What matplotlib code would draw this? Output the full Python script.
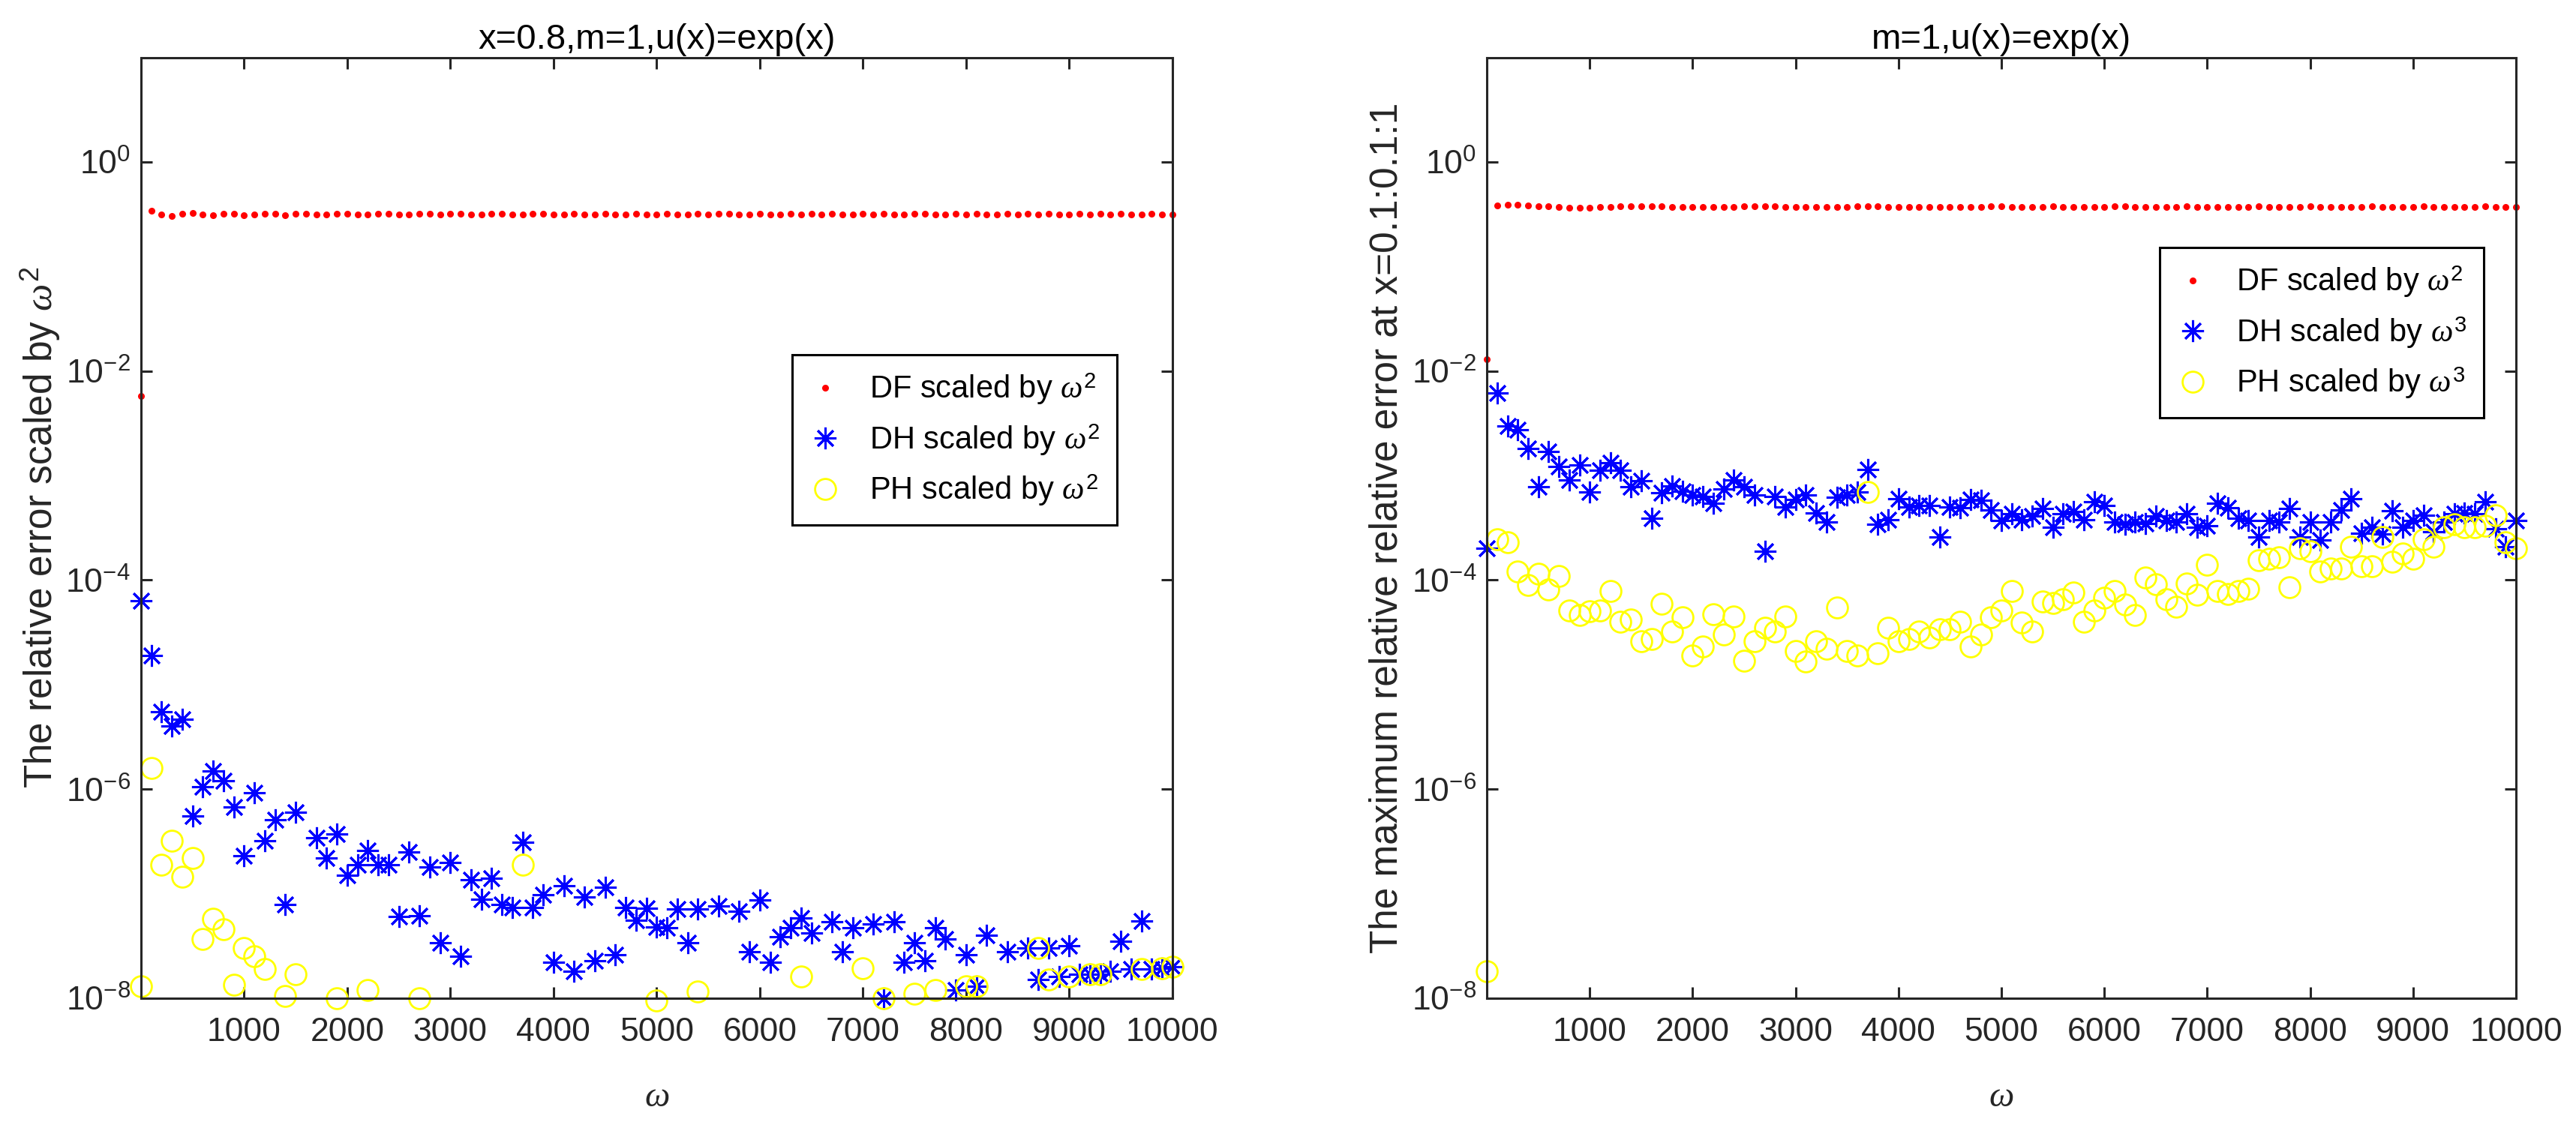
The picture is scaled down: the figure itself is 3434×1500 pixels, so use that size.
import numpy as np
import matplotlib
matplotlib.use('Agg')
from matplotlib import pyplot as plt
from matplotlib.ticker import FixedLocator, NullLocator, LogFormatterSciNotation

nan = np.nan

omega = list(range(0, 10001, 100))

# left panel: x=0.8
df_left = [5.8e-3, 0.339, 0.312, 0.305, 0.321, 0.324, 0.312, 0.311, 0.321, 0.318,
           0.311, 0.315, 0.321, 0.318, 0.311, 0.318, 0.321, 0.312, 0.312, 0.319,
           0.319, 0.312, 0.315, 0.319, 0.319, 0.315, 0.316, 0.319, 0.317, 0.312,
           0.317, 0.319, 0.315, 0.315, 0.317, 0.317, 0.315, 0.316, 0.317, 0.317,
           0.315, 0.316, 0.317, 0.316, 0.316, 0.317, 0.316, 0.316, 0.317, 0.315,
           0.316, 0.317, 0.315, 0.316, 0.318, 0.315, 0.317, 0.318, 0.315, 0.316,
           0.318, 0.315, 0.316, 0.317, 0.315, 0.317, 0.316, 0.318, 0.315, 0.316,
           0.317, 0.315, 0.318, 0.316, 0.315, 0.317, 0.318, 0.315, 0.316, 0.317,
           0.315, 0.318, 0.316, 0.315, 0.317, 0.316, 0.318, 0.315, 0.317, 0.316,
           0.315, 0.317, 0.316, 0.318, 0.315, 0.317, 0.316, 0.315, 0.318, 0.316,
           0.316]
dh_left = [6.3e-5, 1.9e-5, 5.5e-6, 4.0e-6, 4.7e-6, 5.5e-7, 1.05e-6, 1.5e-6, 1.2e-6, 6.8e-7,
           2.3e-7, 9.3e-7, 3.2e-7, 5.1e-7, 7.9e-8, 6.0e-7, nan, 3.4e-7, 2.2e-7, 3.7e-7,
           1.5e-7, 1.9e-7, 2.6e-7, 1.9e-7, 1.9e-7, 6.0e-8, 2.5e-7, 6.2e-8, 1.8e-7, 3.4e-8,
           2.0e-7, 2.5e-8, 1.35e-7, 8.9e-8, 1.4e-7, 7.9e-8, 7.4e-8, 3.1e-7, 7.4e-8, 9.8e-8,
           2.2e-8, 1.2e-7, 1.8e-8, 9.3e-8, 2.3e-8, 1.15e-7, 2.6e-8, 7.4e-8, 5.6e-8, 7.2e-8,
           4.8e-8, 4.7e-8, 7.1e-8, 3.4e-8, 7.1e-8, nan, 7.6e-8, nan, 6.8e-8, 2.8e-8,
           8.7e-8, 2.2e-8, 3.9e-8, 4.7e-8, 5.9e-8, 4.2e-8, nan, 5.4e-8, 2.8e-8, 4.7e-8,
           nan, 5.1e-8, 1.0e-8, 5.4e-8, 2.2e-8, 3.4e-8, 2.3e-8, 4.7e-8, 3.7e-8, 1.2e-8,
           2.6e-8, 1.3e-8, 4.0e-8, nan, 2.8e-8, nan, 3.0e-8, 1.5e-8, 3.0e-8, 1.6e-8,
           3.2e-8, 1.7e-8, 1.7e-8, 1.7e-8, 1.8e-8, 3.5e-8, 1.9e-8, 5.5e-8, 1.9e-8, 1.95e-8,
           2.0e-8]
ph_left = [1.3e-8, 1.6e-6, 1.9e-7, 3.2e-7, 1.45e-7, 2.2e-7, 3.7e-8, 5.8e-8, 4.6e-8, 1.35e-8,
           3.0e-8, 2.5e-8, 1.9e-8, nan, 1.05e-8, 1.7e-8, nan, nan, nan, 1.0e-8,
           nan, nan, 1.2e-8, nan, nan, nan, nan, 1.0e-8, nan, nan,
           nan, nan, nan, nan, nan, nan, nan, 1.9e-7, nan, nan,
           nan, nan, nan, nan, nan, nan, nan, nan, nan, nan,
           9.5e-9, nan, nan, nan, 1.15e-8, nan, nan, nan, nan, nan,
           nan, nan, nan, nan, 1.6e-8, nan, nan, nan, nan, nan,
           1.95e-8, nan, 1.0e-8, nan, nan, 1.1e-8, nan, 1.2e-8, nan, nan,
           1.3e-8, 1.3e-8, nan, nan, nan, nan, nan, 3.0e-8, 1.5e-8, nan,
           1.6e-8, nan, 1.7e-8, 1.7e-8, nan, nan, nan, 1.9e-8, nan, 1.95e-8,
           2.0e-8]

# right panel: max over x=0.1:0.1:1
df_right = [1.3e-2, 0.383, 0.387, 0.387, 0.383, 0.379, 0.375, 0.369, 0.367, 0.366,
            0.367, 0.369, 0.371, 0.375, 0.379, 0.379, 0.379, 0.377, 0.373, 0.371,
            0.369, 0.369, 0.369, 0.371, 0.373, 0.375, 0.377, 0.377, 0.375, 0.373,
            0.371, 0.371, 0.369, 0.369, 0.371, 0.373, 0.375, 0.377, 0.375, 0.373,
            0.373, 0.371, 0.371, 0.371, 0.371, 0.371, 0.373, 0.371, 0.373, 0.375,
            0.375, 0.373, 0.371, 0.371, 0.373, 0.375, 0.373, 0.371, 0.369, 0.371,
            0.373, 0.375, 0.375, 0.373, 0.371, 0.369, 0.371, 0.373, 0.375, 0.373,
            0.371, 0.369, 0.369, 0.371, 0.373, 0.375, 0.373, 0.371, 0.371, 0.373,
            0.375, 0.373, 0.371, 0.369, 0.371, 0.373, 0.375, 0.373, 0.371, 0.371,
            0.373, 0.375, 0.373, 0.371, 0.369, 0.371, 0.373, 0.375, 0.373, 0.371,
            0.373]
dh_right = [2.0e-4, 6.2e-3, 3.0e-3, 2.75e-3, 1.8e-3, 7.8e-4, 1.7e-3, 1.23e-3, 9.1e-4, 1.26e-3,
            6.9e-4, 1.12e-3, 1.32e-3, 1.12e-3, 7.8e-4, 8.9e-4, 3.9e-4, 6.8e-4, 7.9e-4, 7.1e-4,
            6.5e-4, 6.3e-4, 5.4e-4, 7.4e-4, 9.1e-4, 7.8e-4, 6.5e-4, 1.9e-4, 6.3e-4, 5.0e-4,
            5.9e-4, 6.5e-4, 4.4e-4, 3.6e-4, 6.2e-4, 6.5e-4, 6.9e-4, 1.15e-3, 3.4e-4, 3.8e-4,
            6.0e-4, 5.0e-4, 5.2e-4, 5.2e-4, 2.6e-4, 5.0e-4, 4.9e-4, 5.9e-4, 5.8e-4, 4.7e-4,
            3.7e-4, 4.3e-4, 3.8e-4, 4.1e-4, 4.8e-4, 3.2e-4, 4.3e-4, 4.5e-4, 3.8e-4, 5.6e-4,
            5.2e-4, 3.6e-4, 3.4e-4, 3.6e-4, 3.5e-4, 4.1e-4, 3.7e-4, 3.6e-4, 4.3e-4, 3.2e-4,
            3.3e-4, 5.4e-4, 4.9e-4, 3.9e-4, 3.7e-4, 2.6e-4, 3.7e-4, 3.6e-4, 4.8e-4, 2.6e-4,
            3.6e-4, 2.4e-4, 3.6e-4, 4.7e-4, 6.0e-4, 2.8e-4, 3.2e-4, 2.75e-4, 4.6e-4, 3.2e-4,
            3.7e-4, 4.2e-4, 2.9e-4, 3.6e-4, 4.3e-4, 4.4e-4, 4.3e-4, 5.6e-4, 3.1e-4, 2.1e-4,
            3.7e-4]
ph_right = [1.8e-8, 2.45e-4, 2.3e-4, 1.2e-4, 8.9e-5, 1.15e-4, 8.1e-5, 1.1e-4, 5.1e-5, 4.6e-5,
            5.0e-5, 5.1e-5, 7.9e-5, 4.0e-5, 4.2e-5, 2.6e-5, 2.75e-5, 5.9e-5, 3.2e-5, 4.4e-5,
            1.9e-5, 2.3e-5, 4.7e-5, 3.0e-5, 4.5e-5, 1.7e-5, 2.6e-5, 3.5e-5, 3.2e-5, 4.5e-5,
            2.1e-5, 1.65e-5, 2.6e-5, 2.2e-5, 5.5e-5, 2.1e-5, 1.9e-5, 6.9e-4, 2.0e-5, 3.5e-5,
            2.6e-5, 2.75e-5, 3.2e-5, 2.8e-5, 3.4e-5, 3.4e-5, 4.0e-5, 2.3e-5, 3.0e-5, 4.4e-5,
            5.1e-5, 7.9e-5, 3.9e-5, 3.2e-5, 6.2e-5, 6.0e-5, 6.6e-5, 7.6e-5, 4.0e-5, 5.1e-5,
            6.8e-5, 7.8e-5, 5.8e-5, 4.6e-5, 1.05e-4, 9.1e-5, 6.5e-5, 5.6e-5, 9.3e-5, 7.2e-5,
            1.4e-4, 7.9e-5, 7.4e-5, 7.9e-5, 8.3e-5, 1.55e-4, 1.6e-4, 1.65e-4, 8.5e-5, 2.0e-4,
            1.9e-4, 1.2e-4, 1.3e-4, 1.3e-4, 2.1e-4, 1.35e-4, 1.35e-4, 2.6e-4, 1.5e-4, 1.8e-4,
            1.6e-4, 2.45e-4, 2.1e-4, 3.2e-4, 3.4e-4, 3.2e-4, 3.2e-4, 3.3e-4, 4.2e-4, 2.3e-4,
            2.0e-4]

titles = ['x=0.8,m=1,u(x)=exp(x)', 'm=1,u(x)=exp(x)']
ylabels = [r'The relative error scaled by $\omega^2$',
           'The maximum relative relative error at x=0.1:0.1:1']
labels_left = [r'DF scaled by $\omega^2$', r'DH scaled by $\omega^2$', r'PH scaled by $\omega^2$']
labels_right = [r'DF scaled by $\omega^2$', r'DH scaled by $\omega^3$', r'PH scaled by $\omega^3$']
xticks = list(range(1000, 10001, 1000))
yticks = [1e-8, 1e-6, 1e-4, 1e-2, 1e0]

plt.rcParams['font.family'] = ['Liberation Sans', 'DejaVu Sans']
plt.rcParams['mathtext.fontset'] = 'custom'
plt.rcParams['mathtext.rm'] = 'Liberation Sans'
plt.rcParams['mathtext.it'] = 'Liberation Serif:italic'
plt.rcParams['axes.unicode_minus'] = False

dark = '#262626'

fig = plt.figure(figsize=(34.34, 15), dpi=100)
ax1 = fig.add_axes([0.0547, 0.1127, 0.4004, 0.8363])
ax2 = fig.add_axes([0.5772, 0.1127, 0.3995, 0.8363])


def drawPanel(ax, df, dh, ph, labels, title, ylabel, legendAnchor):
    ax.plot(omega, df, 'o', color='red', markersize=6.5, markeredgewidth=0,
            label=labels[0], clip_on=False)
    ax.plot(omega, dh, linestyle='none', marker=(8, 2, 0), color='blue',
            markersize=21, markeredgewidth=2.2, label=labels[1], clip_on=False)
    ax.plot(omega, ph, 'o', markerfacecolor='none', markeredgecolor='yellow',
            markersize=20, markeredgewidth=2.0, label=labels[2], clip_on=False)

    ax.set_yscale('log')
    ax.set_xlim(0, 10000)
    ax.set_ylim(1e-8, 1e1)
    ax.xaxis.set_major_locator(FixedLocator(xticks))
    ax.yaxis.set_major_locator(FixedLocator(yticks))
    ax.yaxis.set_major_formatter(LogFormatterSciNotation())
    ax.yaxis.set_minor_locator(NullLocator())
    ax.tick_params(which='both', direction='in', top=True, right=True,
                   length=11, width=2.2, color=dark, labelcolor=dark, labelsize=32)
    ax.tick_params(axis='x', pad=18)
    ax.tick_params(axis='y', pad=10)
    for spine in ax.spines.values():
        spine.set_linewidth(2.2)
        spine.set_color(dark)

    ax.set_title(title, fontsize=34, color='black', pad=8)
    ax.set_xlabel(r'$\omega$', fontsize=34, color=dark, va='center')
    ax.xaxis.set_label_coords(0.5, -0.105)
    ax.set_ylabel(ylabel, fontsize=37, color=dark, va='center')
    ax.yaxis.set_label_coords(-0.097, 0.5)

    leg = ax.legend(loc='upper right', bbox_to_anchor=legendAnchor, fontsize=30,
                    numpoints=1, fancybox=False, framealpha=1, edgecolor='black',
                    handlelength=1.0, handletextpad=0.9, labelspacing=0.5,
                    borderpad=0.55, borderaxespad=0)
    leg.get_frame().set_linewidth(2.2)


drawPanel(ax1, df_left, dh_left, ph_left, labels_left, titles[0], ylabels[0], (0.946, 0.684))
drawPanel(ax2, df_right, dh_right, ph_right, labels_right, titles[1], ylabels[1], (0.969, 0.798))

plt.savefig('out.png', dpi=100)
